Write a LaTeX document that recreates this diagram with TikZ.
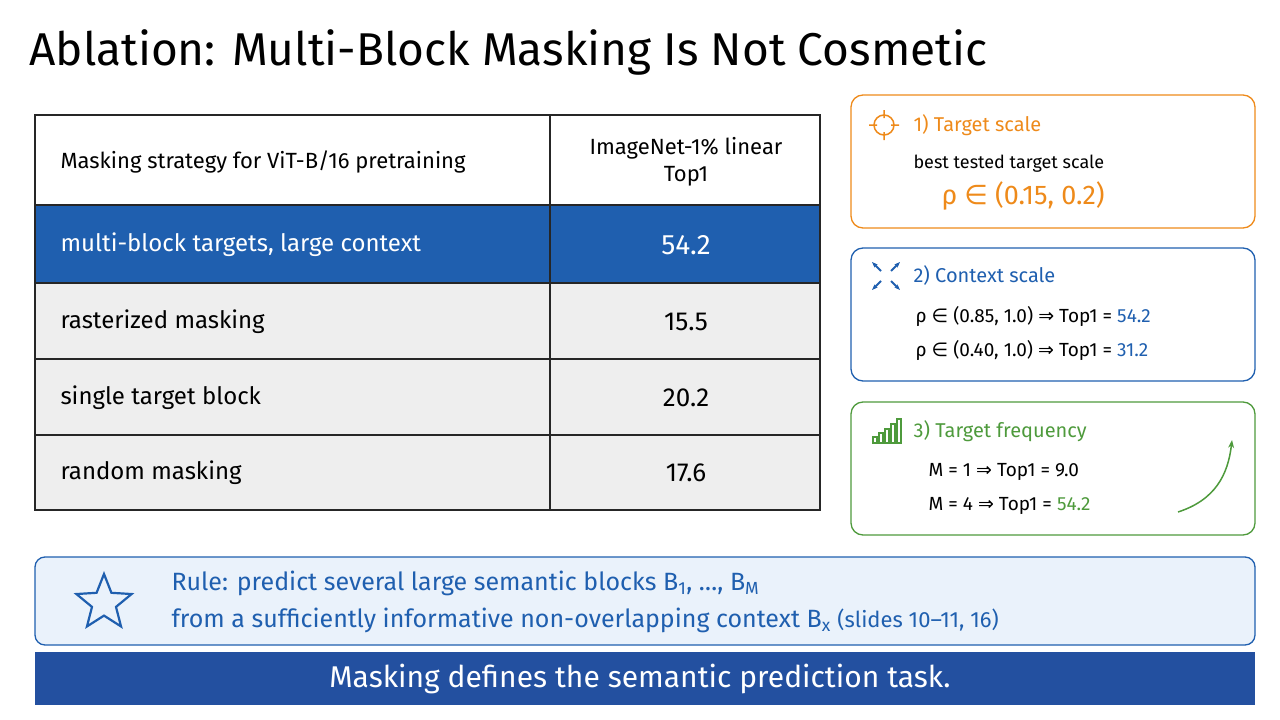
\documentclass[tikz,border=0pt]{standalone}
\usepackage{fontspec}
\setmainfont{Fira Sans}
\newfontfamily\dv{DejaVu Sans}
\usetikzlibrary{shapes.geometric,arrows.meta}
\definecolor{tblue}{HTML}{1F5FAF}
\definecolor{dblue}{HTML}{2350A0}
\definecolor{orng}{HTML}{EE8A1A}
\definecolor{grn}{HTML}{4E9A3C}
\definecolor{lgray}{HTML}{EEEEEE}
\definecolor{lblue}{HTML}{EAF2FB}
\newcommand{\inn}{{\dv ∈}}
\newcommand{\impl}{{\dv ⇒}}
\begin{document}
\begin{tikzpicture}[x=1pt,y=-1pt,
  cell/.style={draw=black!85,line width=1.4pt},
  ttext/.style={font=\fontsize{24}{28}\selectfont,anchor=west},
  vtext/.style={font=\fontsize{24}{28}\selectfont},
  panel/.style={rounded corners=12pt,line width=1.3pt},
  ptitle/.style={font=\fontsize{20}{24}\selectfont,anchor=west},
  ptext/.style={font=\fontsize{19}{23}\selectfont,anchor=west}]
\useasboundingbox (0,0) rectangle (1280,720);
\node[anchor=west,font=\fontsize{46}{52}\selectfont] (title) at (26,52) {Ablation: Multi-Block Masking Is Not Cosmetic};
% table
\fill[tblue] (35,205) rectangle (820,283);
\fill[lgray] (35,283) rectangle (820,510);
\draw[cell] (35,115) rectangle (820,510);
\foreach \y in {205,283,359,435} \draw[cell] (35,\y) -- (820,\y);
\draw[cell] (550,115) -- (550,510);
\node[ttext,font=\fontsize{22}{26}\selectfont] (h1) at (57,162) {Masking strategy for ViT-B/16 pretraining};
\node[vtext,font=\fontsize{22}{27}\selectfont,align=center] (h2) at (686,162) {ImageNet-1\% linear\\Top1};
\node[ttext,text=white] (r1) at (57,245) {multi-block targets, large context};
\node[vtext,text=white,font=\fontsize{28}{32}\selectfont] (v1) at (686,245) {54.2};
\node[ttext] (r2) at (57,322) {rasterized masking};
\node[vtext,font=\fontsize{26}{30}\selectfont] (v2) at (686,322) {15.5};
\node[ttext] (r3) at (57,398) {single target block};
\node[vtext,font=\fontsize{26}{30}\selectfont] (v3) at (686,398) {20.2};
\node[ttext] (r4) at (57,473) {random masking};
\node[vtext,font=\fontsize{26}{30}\selectfont] (v4) at (686,473) {17.6};
% panel 1
\draw[panel,orng] (851,95) rectangle (1255,228);
\draw[orng,line width=1.5pt] (884,125) circle (10) (884,110)--(884,118) (884,132)--(884,140) (869,125)--(877,125) (891,125)--(899,125);
\node[ptitle,text=orng] (p1) at (910,125) {1) Target scale};
\node[ptext,font=\fontsize{18}{22}\selectfont] (p1a) at (910,164) {best tested target scale};
\node[anchor=west,text=orng,font=\fontsize{27}{32}\selectfont] (p1b) at (938,196) {ρ \inn{} (0.15, 0.2)};
% panel 2
\draw[panel,tblue] (851,248) rectangle (1255,381);
\begin{scope}[tblue,line width=1.8pt,-{Stealth[length=6pt]}]
\draw (881,271)--(872,262); \draw (891,271)--(900,262); \draw (881,281)--(872,290); \draw (891,281)--(900,290);
\end{scope}
\node[ptitle,text=tblue] (p2) at (910,275) {2) Context scale};
\node[ptext] (p2a) at (912,316) {ρ \inn{} (0.85, 1.0) \impl{} Top1 = \textcolor{tblue}{54.2}};
\node[ptext] (p2b) at (912,350) {ρ \inn{} (0.40, 1.0) \impl{} Top1 = \textcolor{tblue}{31.2}};
% panel 3
\draw[panel,grn] (851,402) rectangle (1255,535);
\foreach \i/\h in {0/6,1/10,2/14,3/19,4/24} \draw[grn,line width=1.2pt] (873+\i*6,443-\h) rectangle (877+\i*6,443);
\node[ptitle,text=grn] (p3) at (910,431) {3) Target frequency};
\node[ptext] (p3a) at (925,472) {M = 1 \impl{} Top1 = 9.0};
\node[ptext] (p3b) at (925,506) {M = 4 \impl{} Top1 = \textcolor{grn}{54.2}};
\coordinate (ga) at (1178,512); \coordinate (gb) at (1232,440);
\draw[grn,line width=1.5pt,-{Stealth[length=8pt]}] (ga) .. controls (1215,500) and (1228,475) .. (gb);
% rule box
\draw[panel,tblue,fill=lblue,rounded corners=10pt] (35,557) rectangle (1255,645);
\node[star,star points=5,star point ratio=2.3,draw=tblue,line width=2.2pt,minimum size=58pt] (st) at (104,603) {};
\node[anchor=west,text=tblue,align=left,font=\fontsize{25}{37}\selectfont] (rule) at (168,602)
 {Rule: predict several large semantic blocks B\textsubscript{1}, \dots, B\textsubscript{M}\\from a sufficiently informative non-overlapping context B\textsubscript{x} {\fontsize{22}{26}\selectfont(slides 10--11, 16)}};
% banner
\fill[dblue] (35,652) rectangle (1255,705);
\node[text=white,font=\fontsize{30}{34}\selectfont] (ban) at (640,679) {Masking defines the semantic prediction task.};
\end{tikzpicture}
\end{document}
